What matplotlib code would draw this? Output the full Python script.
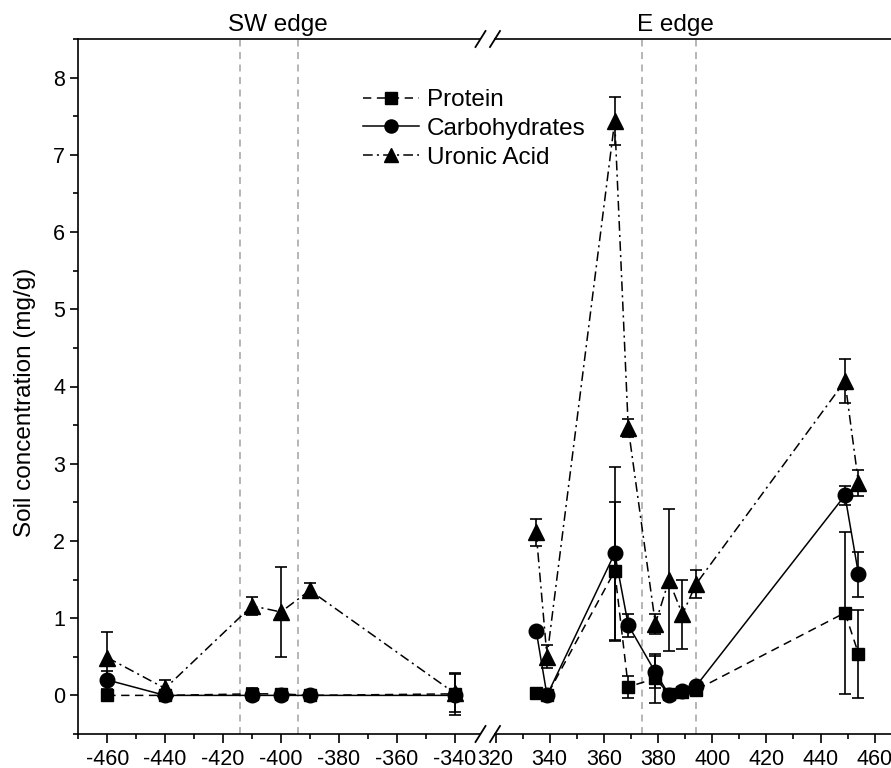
import matplotlib
matplotlib.use("Agg")
import matplotlib.pyplot as plt
from matplotlib.lines import Line2D
import numpy as np

plt.rcParams['font.family'] = ['Liberation Sans', 'DejaVu Sans']
plt.rcParams['lines.scale_dashes'] = False
plt.rcParams['axes.unicode_minus'] = False

# ---------------- data ----------------
# SW edge (left panel)
sw_x = [-460, -440, -410, -400, -390, -340]
sw_protein = [0.0, 0.0, 0.02, 0.02, 0.0, 0.02]
sw_protein_err = [0.02, 0.02, 0.08, 0.05, 0.03, 0.27]
sw_carb = [0.20, 0.0, 0.0, 0.0, 0.0, 0.0]
sw_carb_err = [0.12, 0.02, 0.05, 0.04, 0.03, 0.05]
sw_uronic = [0.49, 0.09, 1.16, 1.08, 1.36, 0.03]
sw_uronic_err = [0.33, 0.11, 0.12, 0.58, 0.09, 0.25]

# E edge (right panel)
e_x = [335, 339, 364, 369, 379, 384, 389, 394, 449, 454]
e_protein = [0.03, 0.0, 1.61, 0.11, 0.22, 0.02, 0.04, 0.07, 1.07, 0.54]
e_protein_err = [0.03, 0.03, 0.9, 0.14, 0.32, 0.05, 0.04, 0.04, 1.05, 0.57]
e_carb = [0.84, 0.0, 1.84, 0.91, 0.30, 0.01, 0.06, 0.12, 2.59, 1.57]
e_carb_err = [0.03, 0.03, 1.12, 0.15, 0.21, 0.05, 0.04, 0.04, 0.12, 0.29]
e_uronic = [2.11, 0.50, 7.44, 3.46, 0.93, 1.49, 1.05, 1.44, 4.07, 2.75]
e_uronic_err = [0.17, 0.15, 0.31, 0.12, 0.13, 0.92, 0.45, 0.18, 0.29, 0.17]

sw_xticks = [-460, -440, -420, -400, -380, -360, -340]
e_xticks = [320, 340, 360, 380, 400, 420, 440, 460]
yticks = [0, 1, 2, 3, 4, 5, 6, 7, 8]
sw_edges = [-414, -394]
e_edges = [374, 394]

series_names = ["Protein", "Carbohydrates", "Uronic Acid"]

# ---------------- figure ----------------
W, H = 891, 768
fig = plt.figure(figsize=(W / 100, H / 100), dpi=100)

def fx(px):
    return px / W

def fy(py):
    return 1 - py / H

TICK_FS = 15.5
TEXT_FS = 17.5

ybot, ytop = 734, 39
axL = fig.add_axes([fx(78.3), fy(ybot), fx(480) - fx(78.3), fy(ytop) - fy(ybot)])
axR = fig.add_axes([fx(495), fy(ybot), fx(891) - fx(495), fy(ytop) - fy(ybot)])

styles = [
    dict(marker='s', ms=9, dashes=(6, 4)),
    dict(marker='o', ms=10.5, linestyle='-'),
    dict(marker='^', ms=11, dashes=(7, 3, 1.5, 3)),
]

lw = 1.1
for ax, xs, sets in [
    (axL, sw_x, [(sw_protein, sw_protein_err), (sw_carb, sw_carb_err), (sw_uronic, sw_uronic_err)]),
    (axR, e_x, [(e_protein, e_protein_err), (e_carb, e_carb_err), (e_uronic, e_uronic_err)]),
]:
    for (vals, errs), st in zip(sets, styles):
        ax.errorbar(xs, vals, yerr=errs, fmt='none', ecolor='black', elinewidth=1.2,
                    capsize=4, capthick=1.2, zorder=2)
        kw = dict(color='black', lw=lw, marker=st['marker'], ms=st['ms'],
                  markerfacecolor='black', markeredgecolor='black', zorder=3)
        if 'dashes' in st:
            ax.plot(xs, vals, dashes=st['dashes'], **kw)
        else:
            ax.plot(xs, vals, linestyle='-', **kw)

for ax, edges in [(axL, sw_edges), (axR, e_edges)]:
    for e in edges:
        ax.axvline(e, color='#b0b0b0', lw=1.3, dashes=(5, 4), zorder=1)

axL.set_xlim(-470, -331.2)
axR.set_xlim(319.8, 466)
for ax in (axL, axR):
    ax.set_ylim(-0.5, 8.5)
    for s in ax.spines.values():
        s.set_linewidth(1.2)
    ax.spines['right'].set_visible(False)
    ax.tick_params(axis='x', which='major', direction='out', length=6.5, width=1.2,
                   labelsize=TICK_FS, pad=4, top=False)
    ax.tick_params(axis='x', which='minor', direction='out', length=3.8, width=1.2, top=False)

axL.set_xticks(sw_xticks)
axL.set_xticks(np.arange(-470, -330, 10), minor=True)
axR.set_xticks(e_xticks)
axR.set_xticks(np.arange(320, 466, 10), minor=True)

axL.set_yticks(yticks)
axL.set_yticks(np.arange(-0.5, 8.51, 0.5), minor=True)
axL.tick_params(axis='y', which='major', direction='out', length=5.5, width=1.2,
                labelsize=TICK_FS, pad=4, right=False)
axL.tick_params(axis='y', which='minor', direction='out', length=3.5, width=1.2, right=False)
axL.set_ylabel("Soil concentration (mg/g)", fontsize=TEXT_FS)
axL.yaxis.set_label_coords(-0.1055, 0.477)

axR.spines['left'].set_visible(False)
axR.tick_params(axis='y', which='both', left=False, labelleft=False, right=False)

axL.text(-401, 1.004, "SW edge", transform=axL.get_xaxis_transform(),
         ha='center', va='bottom', fontsize=TEXT_FS)
axR.text(386.6, 1.004, "E edge", transform=axR.get_xaxis_transform(),
         ha='center', va='bottom', fontsize=TEXT_FS)

# break marks
for py in (ytop, ybot):
    for cx in (480.5, 495):
        fig.add_artist(Line2D([fx(cx - 5), fx(cx + 5)], [fy(py + 8), fy(py - 8)],
                              transform=fig.transFigure, color='black', lw=1.3))

# legend
handles = []
for name, st in zip(series_names, styles):
    kw = dict(color='black', lw=lw, marker=st['marker'], ms=st['ms'] * 0.9,
              markerfacecolor='black', markeredgecolor='black')
    if 'dashes' in st:
        h = Line2D([], [], dashes=st['dashes'], label=name, **kw)
    else:
        h = Line2D([], [], linestyle='-', label=name, **kw)
    handles.append(h)
fig.legend(handles=handles, loc='upper left', bbox_to_anchor=(fx(363), fy(89)),
           frameon=False, fontsize=TEXT_FS, handlelength=2.3, handletextpad=0.33,
           labelspacing=0.28, borderpad=0, borderaxespad=0, numpoints=1)

fig.savefig("out.png", dpi=100)
